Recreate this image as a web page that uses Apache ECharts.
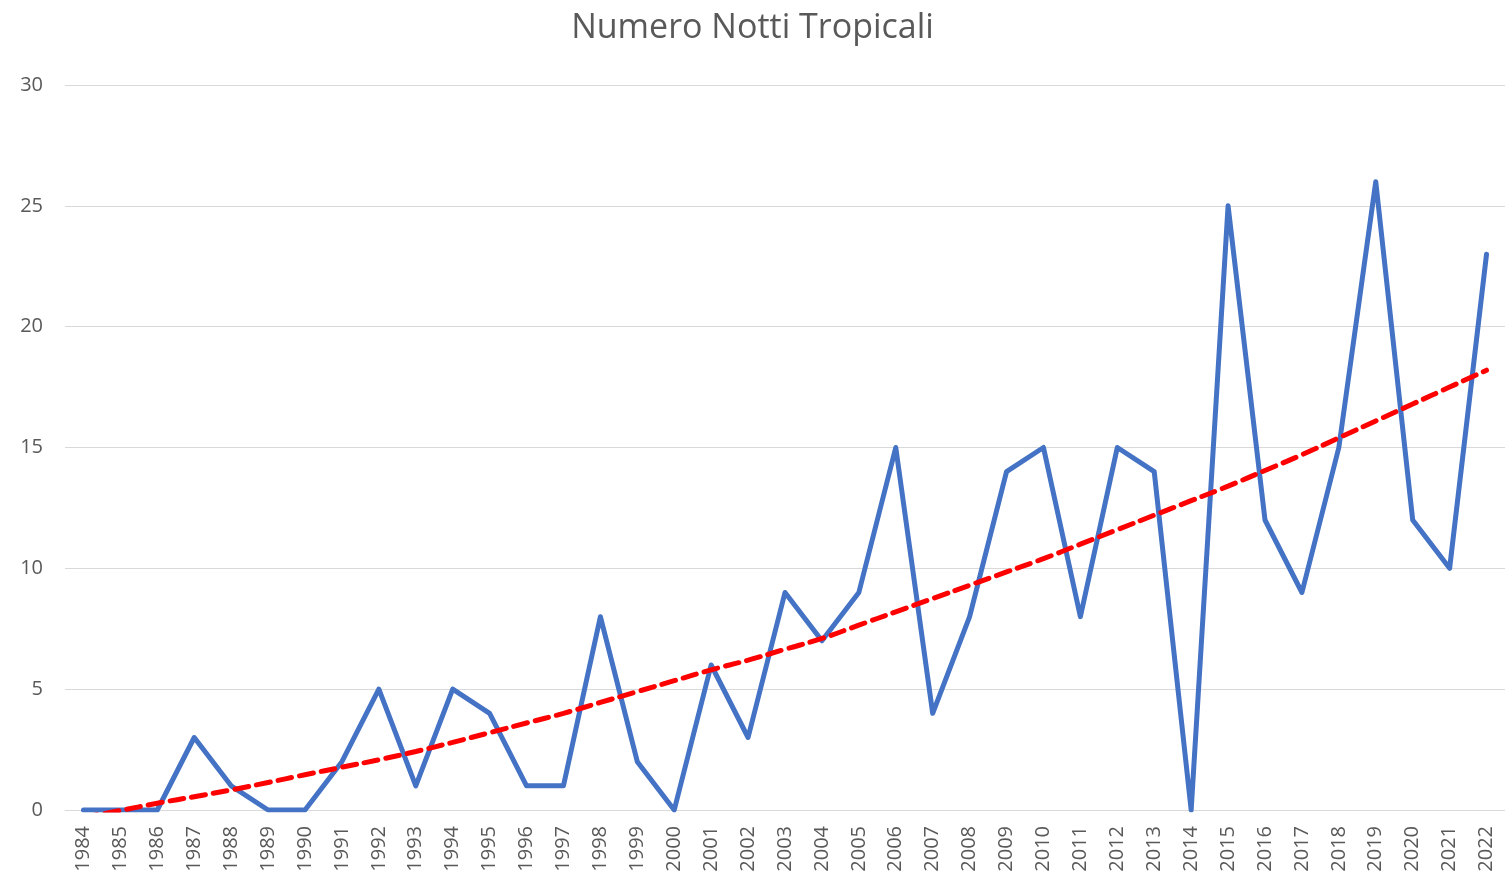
<!DOCTYPE html>
<html>
<head>
<meta charset="utf-8">
<script src="https://cdn.jsdelivr.net/npm/echarts@6/dist/echarts.min.js"></script>
<style>
  html, body { margin: 0; padding: 0; background: #fff; }
  #chart { width: 1505px; height: 883px; }
</style>
</head>
<body>
<div id="chart"></div>
<script>
// Years on the category axis
const years = ['1984','1985','1986','1987','1988','1989','1990','1991','1992','1993',
  '1994','1995','1996','1997','1998','1999','2000','2001','2002','2003',
  '2004','2005','2006','2007','2008','2009','2010','2011','2012','2013',
  '2014','2015','2016','2017','2018','2019','2020','2021','2022'];

// Number of tropical nights per year
const nights = [0, 0, 0, 3, 1, 0, 0, 2, 5, 1,
  5, 4, 1, 1, 8, 2, 0, 6, 3, 9,
  7, 9, 15, 4, 8, 14, 15, 8, 15, 14,
  0, 25, 12, 9, 15, 26, 12, 10, 23];

// Polynomial trend line values (the part below zero is clipped by the grid)
const trend = [-0.3, -0.02, 0.28, 0.55, 0.83, 1.14, 1.46, 1.77, 2.08, 2.42,
  2.8, 3.2, 3.6, 4.0, 4.45, 4.9, 5.35, 5.8, 6.2, 6.65,
  7.1, 7.65, 8.2, 8.75, 9.3, 9.85, 10.4, 11.0, 11.6, 12.2,
  12.8, 13.4, 14.05, 14.7, 15.4, 16.1, 16.8, 17.5, 18.2];

// Value axis ticks
const yTicks = { min: 0, max: 30, interval: 5 };

const chart = echarts.init(document.getElementById('chart'));
chart.setOption({
  animation: false,
  backgroundColor: '#ffffff',
  title: {
    text: 'Numero Notti Tropicali',
    left: 'center',
    top: 6,
    textStyle: { fontFamily: 'Open Sans', fontSize: 34, fontWeight: 'normal', color: '#595959' }
  },
  grid: { left: 65, right: 0, top: 85, bottom: 73, containLabel: false },
  xAxis: {
    type: 'category',
    data: years,
    boundaryGap: true,
    axisLine: { show: true, lineStyle: { color: '#d9d9d9', width: 1 } },
    axisTick: { show: false },
    axisLabel: {
      rotate: 90,
      interval: 0,
      margin: 16,
      fontFamily: 'Open Sans',
      fontSize: 20,
      color: '#595959'
    },
    splitLine: { show: false }
  },
  yAxis: {
    type: 'value',
    min: yTicks.min,
    max: yTicks.max,
    interval: yTicks.interval,
    axisLine: { show: false },
    axisTick: { show: false },
    axisLabel: { margin: 22, fontFamily: 'Open Sans', fontSize: 20, color: '#595959' },
    splitLine: { lineStyle: { color: '#d9d9d9', width: 1 } }
  },
  series: [
    {
      name: 'Notti tropicali',
      type: 'line',
      data: nights,
      symbol: 'none',
      clip: true,
      lineStyle: { color: '#4472C4', width: 5, join: 'round', cap: 'round' },
      z: 2
    },
    {
      name: 'Tendenza',
      type: 'line',
      data: trend,
      symbol: 'none',
      smooth: true,
      clip: true,
      lineStyle: { color: '#FF0000', width: 5, type: [14, 8], cap: 'round' },
      z: 3
    }
  ]
});
</script>
</body>
</html>
